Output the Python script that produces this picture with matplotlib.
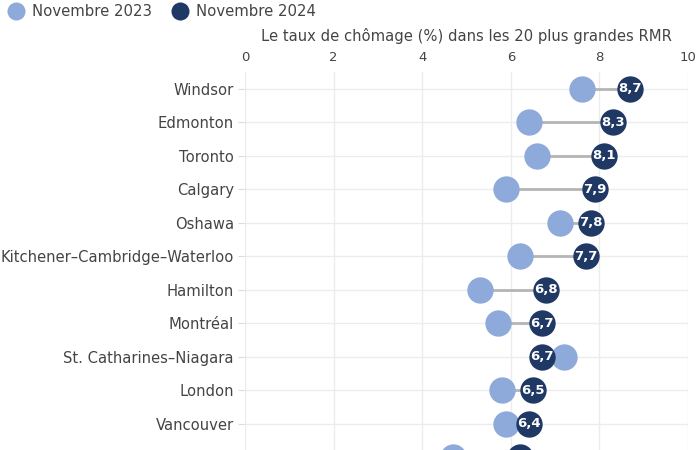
import matplotlib.pyplot as plt

# 12e rangée coupée au bas de l'image : nom illisible
villes = ["Windsor", "Edmonton", "Toronto", "Calgary", "Oshawa",
          "Kitchener–Cambridge–Waterloo", "Hamilton", "Montréal",
          "St. Catharines–Niagara", "London", "Vancouver", ""]
nov_2023 = [7.6, 6.4, 6.6, 5.9, 7.1, 6.2, 5.3, 5.7, 7.2, 5.8, 5.9, 4.7]
nov_2024 = [8.7, 8.3, 8.1, 7.9, 7.8, 7.7, 6.8, 6.7, 6.7, 6.5, 6.4, 6.2]

clair = "#8eaadb"
fonce = "#1f3864"
gris = "#444444"

fig = plt.figure(figsize=(7, 4.5), dpi=100)
ax = fig.add_axes([0.35, -0.053, 0.633, 0.893])

pos = list(range(len(villes)))
for i in pos:
    ax.plot([nov_2023[i], nov_2024[i]], [i, i], color="#b5b5b5", lw=2, zorder=2)
ax.scatter(nov_2023, pos, s=360, color=clair, zorder=3, linewidths=0)
ax.scatter(nov_2024, pos, s=360, color=fonce, zorder=4, linewidths=0)
for i in pos:
    if villes[i]:
        ax.text(nov_2024[i], i, f"{nov_2024[i]:.1f}".replace(".", ","),
                color="white", fontsize=9.5, fontweight="bold",
                ha="center", va="center", zorder=5)

ax.set_xlim(0, 10)
ax.set_ylim(len(villes) - 0.5, -0.5)
ax.set_xticks(range(0, 11, 2))
ax.set_yticks(pos)
ax.set_yticklabels(villes)
ax.xaxis.tick_top()
ax.xaxis.set_label_position("top")
ax.set_xlabel("Le taux de chômage (%) dans les 20 plus grandes RMR",
              fontsize=10.6, color=gris, labelpad=7)
ax.tick_params(axis="x", length=0, labelsize=9.5, labelcolor=gris, pad=6)
ax.tick_params(axis="y", length=5, color="#dddddd", labelsize=10.6,
               labelcolor=gris, pad=3)
ax.grid(True, color="#ececec", lw=1, zorder=0)
ax.set_axisbelow(True)
for s in ax.spines.values():
    s.set_visible(False)

# légende
noms = ["Novembre 2023", "Novembre 2024"]
leg_handles = [plt.Line2D([], [], marker="o", ls="", markersize=13,
                          markerfacecolor=c, markeredgewidth=0)
               for c in [clair, fonce]]
fig.legend(leg_handles, noms, loc="upper left", bbox_to_anchor=(-0.012, 1.02),
           ncol=2, frameon=False, fontsize=10.7, labelcolor=gris,
           handletextpad=0.35, columnspacing=1.1, handlelength=1.5)

fig.savefig("out.png", dpi=100)
